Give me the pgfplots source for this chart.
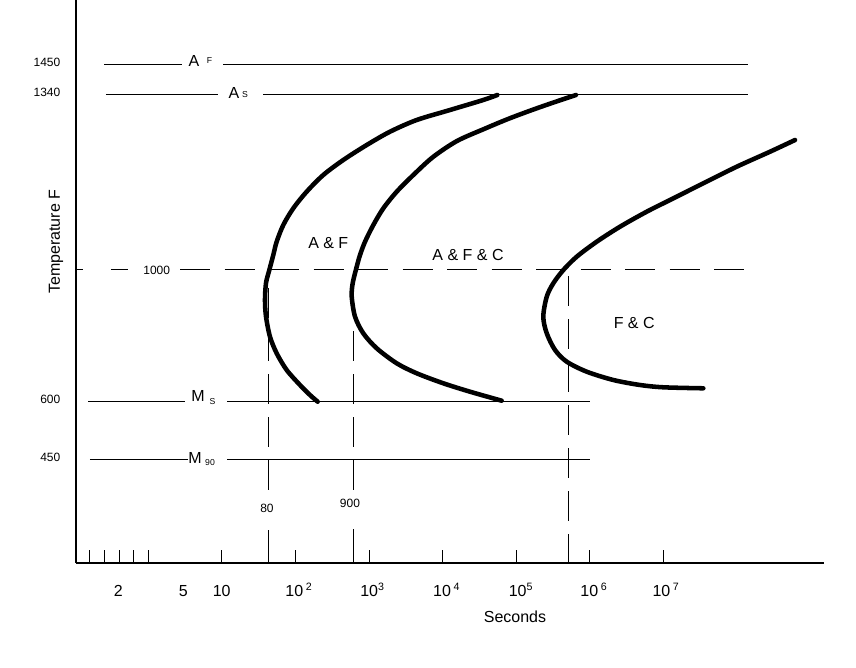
\documentclass[border=0pt]{standalone}
\usepackage{fontspec}
\setmainfont{Liberation Sans}
\usepackage{pgfplots}
\pgfplotsset{compat=1.18}
\begin{document}
\begin{tikzpicture}
\useasboundingbox (-57pt,-78pt) rectangle (585pt,422.25pt);
\begin{axis}[
  at={(0pt,0pt)}, anchor=south west,
  scale only axis, width=561pt, height=422.25pt,
  xmin=-0.986, xmax=9.190, ymin=0, ymax=563,
  axis lines=left, axis line style={-, line width=1pt, black},
  clip=false,
  xtick={-0.805,-0.601,-0.397,-0.197,0,1,2,3,4,5,6,7},
  xticklabels={},
  tick align=inside, major tick length=9.75pt,
  tick style={black, line width=0.75pt},
  ytick=\empty,
  extra x ticks={-0.411,0.473,0.996,2.048,3.048,4.057,5.068,6.061,7.041},
  extra x tick labels={2,5,10,10\,\textsuperscript{2},10\textsuperscript{3},10\,\textsuperscript{4},10\textsuperscript{5},10\,\textsuperscript{6},10\,\textsuperscript{7}},
  extra x tick style={major tick length=0pt, xticklabel style={anchor=base, yshift=-24.75pt, font=\fontsize{12}{14}\selectfont}},
  extra y ticks={103,161,468,498},
  extra y tick labels={450,600,1340,1450},
  extra y tick style={major tick length=0pt, yticklabel style={anchor=base east, xshift=-8.25pt, yshift=-1.1pt, font=\fontsize{9}{11}\selectfont}},
]
% horizontal reference lines
\addplot[black, line width=0.75pt] coordinates {(-0.605,498) (0.452,498)};
\addplot[black, line width=0.75pt] coordinates {(1.018,498) (8.156,498)};
\addplot[black, line width=0.75pt] coordinates {(-0.578,468) (0.950,468)};
\addplot[black, line width=0.75pt] coordinates {(1.562,468) (8.156,468)};
\addplot[black, line width=0.75pt] coordinates {(-0.819,161) (0.497,161)};
\addplot[black, line width=0.75pt] coordinates {(1.072,161) (6.007,161)};
\addplot[black, line width=0.75pt] coordinates {(-0.796,103) (0.541,103)};
\addplot[black, line width=0.75pt] coordinates {(1.072,103) (6.007,103)};
% 1000 F dashed line
\addplot[black, line width=0.75pt] coordinates {(-0.986,293) (-0.891,293)};
\addplot[black, line width=0.75pt] coordinates {(-0.510,293) (-0.282,293)};
\addplot[black, line width=0.75pt, dash pattern=on 22.5pt off 10.875pt] coordinates {(0.429,293) (8.102,293)};
% vertical dashed lines
\addplot[black, line width=0.75pt] coordinates {(1.639,0) (1.639,33)};
\addplot[black, line width=0.75pt, dash pattern=on 22.5pt off 9.75pt] coordinates {(1.639,73) (1.639,278)};
\addplot[black, line width=0.75pt] coordinates {(2.789,0) (2.789,34)};
\addplot[black, line width=0.75pt, dash pattern=on 22.5pt off 9.75pt] coordinates {(2.789,73) (2.789,273)};
\addplot[black, line width=0.75pt] coordinates {(5.712,0) (5.712,29)};
\addplot[black, line width=0.75pt, dash pattern=on 22.5pt off 9.75pt] coordinates {(5.712,42.3) (5.712,293)};
% curves
\addplot[black, line width=3.4pt, smooth, tension=0.5, line cap=round, line join=round] coordinates {
(4.746,468) (4.555,463) (4.102,453) (3.649,443) (3.286,431.3) (2.969,418)
(2.650,403) (2.378,388) (2.152,371.3) (1.970,354.7) (1.834,338) (1.744,321.3)
(1.698,308) (1.644,293) (1.599,280) (1.585,263) (1.599,246.3) (1.653,226.3)
(1.744,209.7) (1.880,193) (2.061,178) (2.197,168) (2.302,161.3)};
\addplot[black, line width=3.4pt, smooth, tension=0.5, line cap=round, line join=round] coordinates {
(5.816,468) (5.530,461) (5.218,453) (4.891,444) (4.565,434) (4.197,422)
(3.871,406) (3.603,388) (3.377,371.3) (3.195,354.7) (3.059,338) (2.946,321.3)
(2.878,308) (2.833,296.3) (2.778,279.7) (2.765,266.3) (2.810,246.3) (2.922,229.7)
(3.105,214.7) (3.377,199.7) (3.649,189.7) (4.011,179.7) (4.374,171.3) (4.805,162.3)};
\addplot[black, line width=3.4pt, smooth, tension=0.5, line cap=round, line join=round] coordinates {
(8.796,423) (8.456,411.3) (8.003,396.3) (7.548,379.7) (7.095,363) (6.778,351.3)
(6.415,336.3) (6.098,321.3) (5.826,306.3) (5.644,293) (5.507,279.7) (5.418,266.3)
(5.371,246.3) (5.418,229.7) (5.531,213) (5.690,201.3) (5.962,191.3) (6.324,183)
(6.687,178) (7.004,175.7) (7.548,174.7)};
% labels
\node[font=\fontsize{12}{14}\selectfont] at (axis cs:0.619,502) {A};
\node[font=\fontsize{6.5}{8}\selectfont] at (axis cs:0.830,502) {F};
\node[font=\fontsize{12}{14}\selectfont] at (axis cs:1.163,469.7) {A};
\node[font=\fontsize{6.5}{8}\selectfont] at (axis cs:1.313,468.5) {S};
\node[font=\fontsize{12}{14}\selectfont] at (axis cs:0.673,167) {M};
\node[font=\fontsize{6.5}{8}\selectfont] at (axis cs:0.871,161.5) {S};
\node[font=\fontsize{12}{14}\selectfont] at (axis cs:0.633,105.5) {M};
\node[font=\fontsize{6.5}{8}\selectfont] at (axis cs:0.837,100.5) {90};
\node[font=\fontsize{9}{11}\selectfont] at (axis cs:0.112,293) {1000};
\node[font=\fontsize{9}{11}\selectfont] at (axis cs:1.612,55) {80};
\node[font=\fontsize{9}{11}\selectfont] at (axis cs:2.741,60) {900};
\node[font=\fontsize{12}{14}\selectfont] at (axis cs:2.446,319.7) {A \& F};
\node[font=\fontsize{12}{14}\selectfont] at (axis cs:4.347,308) {A \& F \& C};
\node[font=\fontsize{12}{14}\selectfont] at (axis cs:6.608,240.5) {F \& C};
\node[font=\fontsize{12}{14}\selectfont, rotate=90] at (axis cs:-1.259,321.3) {Temperature F};
\node[font=\fontsize{12}{14}\selectfont] at (axis cs:4.986,-53.5) {Seconds};
\end{axis}
\end{tikzpicture}
\end{document}
